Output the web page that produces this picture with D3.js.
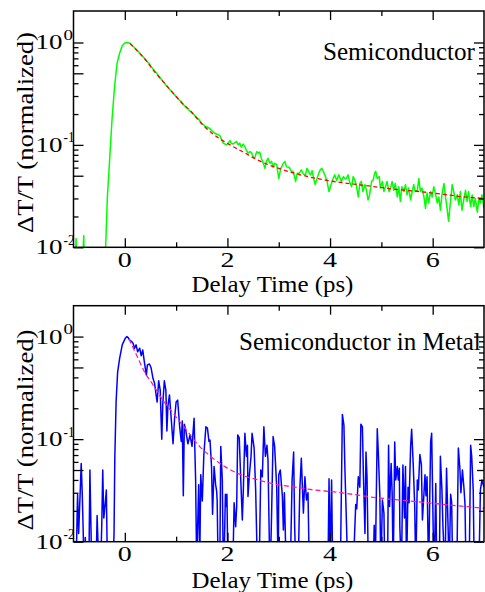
<!DOCTYPE html>
<html>
<head>
<meta charset="utf-8">
<script src="https://cdn.jsdelivr.net/npm/d3@7"></script>
<style>
  body { margin: 0; background: #fff; }
  svg text { font-family: "Liberation Serif"; }
</style>
</head>
<body>
<div class="chart"></div>
<script>
// axis ticks
var xMajorTicks = [0, 2, 4, 6];
var xMinorTicks = [1, 3, 5];
var yDecades = [1, 0.1, 0.01];
var yDecadeLabels = ["0", "-1", "-2"];
var yMinorTicks = [0.02, 0.03, 0.04, 0.05, 0.06, 0.07, 0.08, 0.09, 0.2, 0.3, 0.4, 0.5, 0.6, 0.7, 0.8, 0.9];

// [delay (ps), normalized dT/T]
var semiData = [
  [-1.0,0.004],[-0.97,0.006],[-0.95,0.0122],[-0.93,0.005],[-0.88,0.003],[-0.83,0.006],[-0.8,0.013],[-0.78,0.004],
  [-0.7,0.002],[-0.6,0.003],[-0.5,0.002],[-0.42,0.003],[-0.38,0.008],[-0.34,0.031],[-0.3,0.066],[-0.25,0.175],
  [-0.2,0.37],[-0.15,0.63],[-0.1,0.79],[-0.05,0.93],[0.0,0.99],[0.05,1.0],[0.1,0.985],[0.15,0.93],[0.2,0.88],
  [0.25,0.83],[0.3,0.775],[0.35,0.73],[0.4,0.685],[0.45,0.64],[0.5,0.595],[0.55,0.55],[0.6,0.515],[0.65,0.48],
  [0.7,0.445],[0.75,0.415],[0.8,0.385],[0.85,0.36],[0.9,0.337],[0.95,0.315],[1.0,0.297],[1.05,0.277],[1.1,0.262],
  [1.15,0.245],[1.2,0.232],[1.25,0.219],[1.3,0.207],[1.35,0.197],[1.4,0.183],[1.43,0.18],[1.46,0.172],[1.5,0.161],
  [1.53,0.158],[1.56,0.152],[1.6,0.15],[1.63,0.147],[1.66,0.144],[1.7,0.137],[1.73,0.133],[1.76,0.129],[1.8,0.127],
  [1.85,0.124],[1.885,0.112],[1.92,0.104],[1.98,0.1],[2.02,0.105],[2.05,0.11],[2.08,0.103],[2.11,0.102],[2.15,0.106],
  [2.18,0.108],[2.21,0.1],[2.24,0.104],[2.27,0.095],[2.31,0.102],[2.34,0.096],[2.37,0.089],[2.4,0.083],[2.44,0.086],
  [2.47,0.084],[2.5,0.076],[2.53,0.074],[2.57,0.086],[2.6,0.083],[2.63,0.085],[2.66,0.074],[2.7,0.066],[2.73,0.059],
  [2.76,0.069],[2.79,0.074],[2.83,0.066],[2.86,0.069],[2.89,0.061],[2.92,0.066],[2.96,0.064],[3.0,0.047],[3.04,0.059],
  [3.09,0.066],[3.12,0.069],[3.15,0.061],[3.2,0.0605],[3.24,0.056],[3.28,0.055],[3.33,0.044],[3.36,0.053],[3.4,0.053],
  [3.44,0.057],[3.48,0.052],[3.52,0.051],[3.55,0.059],[3.59,0.054],[3.62,0.051],[3.65,0.056],[3.68,0.047],[3.71,0.041],
  [3.74,0.046],[3.78,0.053],[3.81,0.057],[3.84,0.059],[3.87,0.055],[3.91,0.049],[3.94,0.045],[3.96,0.039],[3.98,0.035],
  [4.02,0.041],[4.06,0.047],[4.09,0.051],[4.13,0.045],[4.17,0.051],[4.22,0.044],[4.26,0.049],[4.29,0.047],[4.32,0.047],
  [4.35,0.051],[4.38,0.044],[4.42,0.039],[4.45,0.049],[4.48,0.0455],[4.51,0.041],[4.55,0.031],[4.58,0.042],[4.61,0.044],
  [4.64,0.035],[4.68,0.041],[4.71,0.036],[4.74,0.029],[4.77,0.0325],[4.81,0.044],[4.84,0.0455],[4.87,0.053],[4.89,0.055],
  [4.92,0.047],[4.96,0.049],[4.98,0.038],[5.02,0.044],[5.05,0.035],[5.08,0.039],[5.11,0.044],[5.15,0.035],[5.18,0.038],
  [5.21,0.044],[5.24,0.036],[5.27,0.042],[5.31,0.031],[5.34,0.039],[5.37,0.028],[5.4,0.039],[5.44,0.035],[5.47,0.041],
  [5.5,0.0325],[5.53,0.038],[5.57,0.029],[5.6,0.035],[5.63,0.041],[5.66,0.035],[5.7,0.036],[5.73,0.047],[5.76,0.035],
  [5.79,0.038],[5.83,0.031],[5.86,0.024],[5.89,0.034],[5.92,0.027],[5.96,0.035],[5.99,0.031],[6.02,0.039],[6.05,0.034],
  [6.09,0.027],[6.12,0.031],[6.15,0.023],[6.18,0.0325],[6.22,0.042],[6.25,0.031],[6.28,0.024],[6.31,0.018],[6.35,0.029],
  [6.38,0.041],[6.41,0.035],[6.44,0.029],[6.48,0.0325],[6.51,0.026],[6.54,0.035],[6.57,0.023],[6.61,0.03],[6.64,0.036],
  [6.67,0.028],[6.7,0.035],[6.74,0.025],[6.77,0.0325],[6.8,0.025],[6.83,0.03],[6.87,0.022],[6.9,0.03],[6.93,0.027],
  [6.96,0.0325],[7.0,0.024]
];
var semiFit = [
  [0.1,0.98],[0.25,0.82],[0.38,0.70],[0.55,0.54],[0.7,0.44],[0.87,0.352],[1.0,0.297],[1.13,0.251],[1.26,0.22],
  [1.39,0.186],[1.52,0.157],[1.7,0.13],[2.05,0.10],[2.35,0.083],[2.5,0.075],[2.8,0.064],[3.0,0.059],[3.3,0.053],
  [3.65,0.048],[4.0,0.0445],[4.2,0.043],[4.6,0.0406],[5.0,0.0383],[5.35,0.0365],[5.75,0.035],[6.15,0.0332],
  [6.55,0.0313],[7.0,0.030]
];
var metalData = [
  [-1.0,0.004],[-0.95,0.005],[-0.93,0.018],[-0.92,0.029],[-0.9,0.012],[-0.87,0.03],[-0.85,0.058],[-0.83,0.03],
  [-0.81,0.012],[-0.79,0.004],[-0.77,0.011],[-0.75,0.004],[-0.7,0.006],[-0.68,0.05],[-0.66,0.014],[-0.64,0.004],
  [-0.57,0.003],[-0.54,0.018],[-0.52,0.009],[-0.48,0.004],[-0.45,0.014],[-0.43,0.05],[-0.41,0.017],[-0.38,0.024],
  [-0.36,0.032],[-0.34,0.006],[-0.3,0.002],[-0.25,0.003],[-0.21,0.012],[-0.195,0.065],[-0.17,0.23],[-0.14,0.45],
  [-0.1,0.615],[-0.05,0.83],[0.01,0.965],[0.04,1.0],[0.07,0.97],[0.09,0.93],[0.13,0.9],[0.16,0.86],[0.19,0.77],
  [0.22,0.83],[0.25,0.71],[0.29,0.77],[0.32,0.65],[0.35,0.74],[0.38,0.57],[0.42,0.42],[0.44,0.53],[0.48,0.54],
  [0.51,0.5],[0.55,0.39],[0.58,0.35],[0.61,0.27],[0.63,0.23],[0.66,0.37],[0.69,0.3],[0.72,0.1],[0.74,0.22],
  [0.77,0.37],[0.8,0.3],[0.82,0.12],[0.84,0.21],[0.87,0.27],[0.9,0.17],[0.94,0.09],[0.97,0.16],[1.0,0.23],
  [1.03,0.24],[1.07,0.13],[1.1,0.095],[1.12,0.15],[1.14,0.028],[1.16,0.14],[1.19,0.12],[1.23,0.09],[1.27,0.11],
  [1.31,0.085],[1.35,0.16],[1.38,0.04],[1.4,0.006],[1.44,0.036],[1.46,0.006],[1.48,0.045],[1.51,0.025],[1.54,0.07],
  [1.58,0.132],[1.61,0.128],[1.64,0.095],[1.66,0.098],[1.69,0.054],[1.71,0.0185],[1.74,0.054],[1.77,0.036],
  [1.79,0.031],[1.8,0.025],[1.82,0.005],[1.85,0.005],[1.87,0.085],[1.9,0.04],[1.92,0.005],[1.94,0.009],[1.96,0.029],
  [1.98,0.022],[1.99,0.029],[2.01,0.005],[2.1,0.004],[2.13,0.024],[2.16,0.014],[2.18,0.022],[2.2,0.11],[2.23,0.103],
  [2.26,0.04],[2.29,0.0163],[2.31,0.032],[2.34,0.114],[2.37,0.068],[2.39,0.087],[2.4,0.0276],[2.43,0.0465],
  [2.46,0.068],[2.48,0.114],[2.52,0.082],[2.55,0.032],[2.59,0.004],[2.62,0.006],[2.65,0.05],[2.68,0.043],[2.71,0.132],
  [2.74,0.068],[2.77,0.087],[2.79,0.063],[2.83,0.004],[2.86,0.018],[2.89,0.106],[2.92,0.085],[2.96,0.034],[2.99,0.005],
  [3.0,0.045],[3.03,0.05],[3.07,0.028],[3.09,0.013],[3.11,0.03],[3.15,0.004],[3.22,0.004],[3.26,0.04],[3.29,0.075],
  [3.31,0.014],[3.34,0.004],[3.38,0.006],[3.41,0.032],[3.44,0.065],[3.48,0.019],[3.51,0.043],[3.54,0.0255],[3.57,0.03],
  [3.6,0.004],[3.75,0.003],[3.9,0.004],[3.96,0.006],[3.98,0.041],[4.0,0.006],[4.03,0.04],[4.05,0.006],[4.2,0.005],
  [4.22,0.03],[4.24,0.174],[4.27,0.137],[4.29,0.05],[4.32,0.015],[4.35,0.004],[4.45,0.005],[4.5,0.023],[4.52,0.021],
  [4.55,0.043],[4.58,0.034],[4.6,0.14],[4.63,0.132],[4.65,0.045],[4.68,0.012],[4.7,0.075],[4.72,0.043],[4.75,0.004],
  [4.84,0.005],[4.86,0.0145],[4.88,0.005],[4.92,0.126],[4.94,0.075],[4.97,0.028],[4.99,0.005],[5.02,0.0255],
  [5.05,0.019],[5.07,0.004],[5.12,0.005],[5.14,0.087],[5.16,0.022],[5.19,0.058],[5.21,0.03],[5.23,0.005],[5.26,0.094],
  [5.28,0.04],[5.31,0.054],[5.33,0.04],[5.35,0.052],[5.36,0.014],[5.39,0.005],[5.42,0.056],[5.45,0.017],[5.47,0.054],
  [5.49,0.005],[5.52,0.034],[5.54,0.024],[5.57,0.085],[5.59,0.125],[5.62,0.058],[5.65,0.022],[5.67,0.005],[5.7,0.04],
  [5.72,0.032],[5.75,0.071],[5.78,0.056],[5.8,0.0163],[5.83,0.0297],[5.85,0.045],[5.87,0.028],[5.89,0.043],
  [5.92,0.005],[5.96,0.094],[5.98,0.114],[6.01,0.013],[6.03,0.005],[6.06,0.037],[6.08,0.005],[6.13,0.005],
  [6.15,0.068],[6.18,0.032],[6.2,0.014],[6.24,0.005],[6.27,0.052],[6.3,0.014],[6.32,0.005],[6.35,0.029],[6.37,0.024],
  [6.39,0.005],[6.47,0.005],[6.5,0.082],[6.53,0.052],[6.55,0.03],[6.58,0.05],[6.61,0.033],[6.63,0.023],[6.65,0.005],
  [6.71,0.005],[6.74,0.087],[6.76,0.068],[6.79,0.032],[6.81,0.005],[6.9,0.005],[6.93,0.032],[6.96,0.04],[7.0,0.034]
];
var metalFit = [
  [0.08,0.95],[0.2,0.71],[0.38,0.456],[0.55,0.338],[0.74,0.241],[0.94,0.179],[1.2,0.123],[1.46,0.0845],
  [1.68,0.0675],[1.95,0.054],[2.27,0.0448],[2.6,0.040],[2.92,0.0365],[3.25,0.0344],[3.57,0.0325],[3.9,0.0312],
  [4.22,0.030],[4.84,0.0271],[5.49,0.0251],[6.14,0.0233],[7.0,0.0212]
];

var width = 485, height = 592;
var svg = d3.select(".chart").append("svg").attr("width", width).attr("height", height);

var left = 73.5, right = 484;

var x = d3.scaleLinear().domain([-1, 7]).range([left, right]);

// text placed at "pos" and stretched sideways to the width it has in the picture
function fitText(sel, pos, str, px, len, anchor) {
  var holder = sel.append("g");
  var t = holder.append("text")
    .attr("font-family", "Liberation Serif")
    .attr("font-size", px)
    .attr("text-anchor", anchor || "start")
    .text(str);
  var k = len / t.node().getComputedTextLength();
  holder.attr("transform", pos + " scale(" + k + ",1)");
  return t;
}

function drawPanel(opts) {
  var top = opts.top, bottom = opts.bottom;
  var y = d3.scaleLog().domain([0.01, opts.yMax]).range([bottom, top]);
  var g = svg.append("g");

  // clip for the traces
  g.append("clipPath").attr("id", opts.id)
    .append("rect").attr("x", left).attr("y", top).attr("width", right - left).attr("height", bottom - top);

  var line = d3.line().x(function(d) { return x(d[0]); }).y(function(d) { return y(d[1]); });
  var smooth = d3.line().x(function(d) { return x(d[0]); }).y(function(d) { return y(d[1]); }).curve(d3.curveMonotoneX);

  var plot = g.append("g").attr("clip-path", "url(#" + opts.id + ")");
  plot.append("path")
    .attr("fill", "none").attr("stroke", opts.color).attr("stroke-width", 1.5)
    .attr("stroke-linejoin", "round")
    .attr("d", line(opts.data));
  plot.append("path")
    .attr("fill", "none").attr("stroke", opts.fitColor).attr("stroke-width", 1.3)
    .attr("stroke-dasharray", opts.dash)
    .attr("d", smooth(opts.fit));

  // ticks pointing inward, on all four sides (tick lines only)
  function ticks(axis, pos, len) {
    var a = g.append("g").attr("transform", pos).call(axis.tickSize(-len).tickFormat(""));
    a.select(".domain").remove();
    a.selectAll("text").remove();
    a.selectAll("line").attr("stroke", "#000").attr("stroke-width", 1.3);
  }
  var shortY = yMinorTicks.filter(function(v) { return v !== 0.05 && v !== 0.5; });
  ticks(d3.axisBottom(x).tickValues(xMajorTicks), "translate(0," + bottom + ")", 9);
  ticks(d3.axisBottom(x).tickValues(xMinorTicks), "translate(0," + bottom + ")", 5);
  ticks(d3.axisTop(x).tickValues(xMajorTicks), "translate(0," + top + ")", 9);
  ticks(d3.axisTop(x).tickValues(xMinorTicks), "translate(0," + top + ")", 5);
  ticks(d3.axisLeft(y).tickValues(yDecades), "translate(" + left + ",0)", 10);
  ticks(d3.axisLeft(y).tickValues(shortY), "translate(" + left + ",0)", 5);
  ticks(d3.axisLeft(y).tickValues([0.05, 0.5]), "translate(" + left + ",0)", 10);
  ticks(d3.axisRight(y).tickValues(yDecades), "translate(" + right + ",0)", 10);
  ticks(d3.axisRight(y).tickValues(shortY), "translate(" + right + ",0)", 5);
  ticks(d3.axisRight(y).tickValues([0.05, 0.5]), "translate(" + right + ",0)", 7);

  // frame
  g.append("rect")
    .attr("x", left).attr("y", top).attr("width", right - left).attr("height", bottom - top)
    .attr("fill", "none").attr("stroke", "#000").attr("stroke-width", 1.5);

  // x tick labels
  xMajorTicks.forEach(function(t) {
    fitText(g, "translate(" + x(t) + "," + (bottom + 19.5) + ")", String(t), 21, 14, "middle");
  });

  // y tick labels 10^n
  yDecades.forEach(function(v, i) {
    fitText(g, "translate(35.5," + (y(v) + 7) + ")", "10", 22, 27);
    fitText(g, "translate(63.5," + (y(v) - 2.5) + ")", yDecadeLabels[i], 15,
      yDecadeLabels[i].length > 1 ? 11 : 9.5);
  });

  // axis titles
  fitText(g, "translate(191.5," + (bottom + opts.titleOffset) + ")", "Delay Time (ps)", 23, 162);
  fitText(g, "translate(33," + opts.yTitleCenter + ") rotate(-90)", "\u0394T/T (normalized)", 24, 201, "middle");

  // panel label
  fitText(g, "translate(" + opts.labelX + "," + opts.labelY + ")", opts.label, 25, opts.labelLen);
}

drawPanel({
  id: "clipTop", top: 11, bottom: 247.3, yMax: 2.03,
  data: semiData, fit: semiFit, color: "#00ff00", fitColor: "#ff0000", dash: "4,3",
  titleOffset: 44.4, yTitleCenter: 132.5,
  label: "Semiconductor", labelX: 323, labelY: 60, labelLen: 152
});

drawPanel({
  id: "clipBottom", top: 305.7, bottom: 541.7, yMax: 2.0,
  data: metalData, fit: metalFit, color: "#0000ff", fitColor: "#ff2090", dash: "5,3",
  titleOffset: 46, yTitleCenter: 430,
  label: "Semiconductor in Metal", labelX: 239, labelY: 350, labelLen: 242
});
</script>
</body>
</html>
